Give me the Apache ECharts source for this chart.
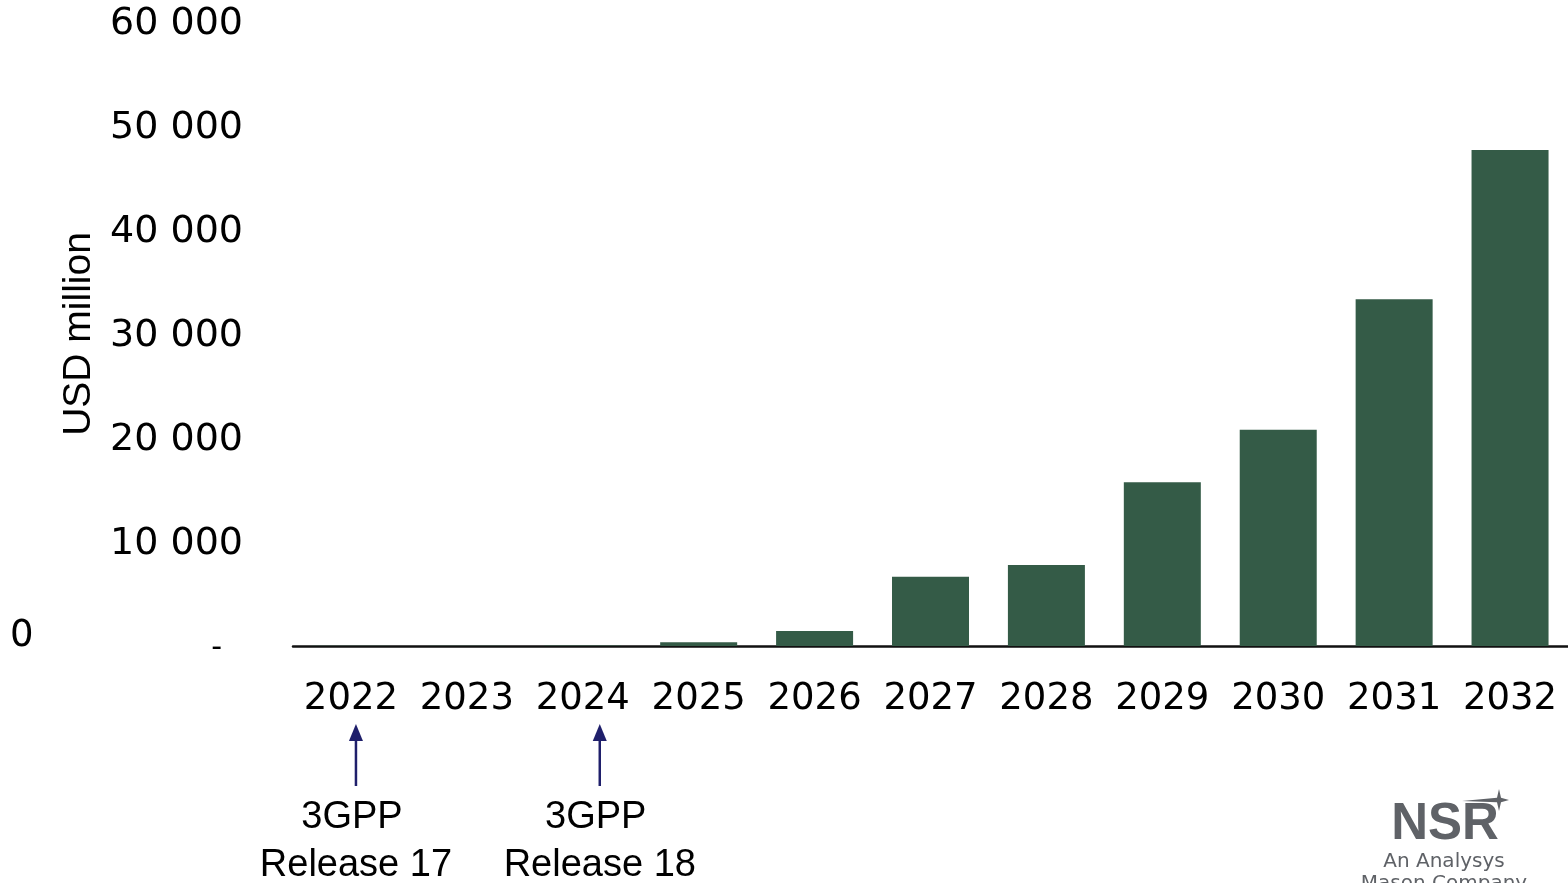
<!DOCTYPE html>
<html>
<head>
<meta charset="utf-8">
<script src="https://cdn.jsdelivr.net/npm/echarts@6/dist/echarts.min.js"></script>
<style>
html,body{margin:0;padding:0;background:#fff;}
#chart{width:1568px;height:883px;}
</style>
</head>
<body>
<div id="chart"></div>
<script>
const categories = ['2022','2023','2024','2025','2026','2027','2028','2029','2030','2031','2032'];
const revenue = [20, 30, 60, 350, 1450, 6650, 7800, 15750, 20800, 33350, 47700];
const yTicks = [0, 10000, 20000, 30000, 40000, 50000, 60000];
const annotationYears = ['2022', '2024'];
const annotationLine1 = ['3GPP', '3GPP'];
const annotationLine2 = ['Release 17', 'Release 18'];

const chart = echarts.init(document.getElementById('chart'), null, {renderer: 'canvas'});
const tickFont = 'DejaVu Sans';
chart.setOption({
  animation: false,
  grid: {left: 293, right: 0, top: 22, bottom: 237, containLabel: false},
  xAxis: {
    type: 'category',
    data: categories,
    axisLine: {lineStyle: {color: '#111', width: 2.5}},
    axisTick: {show: false},
    axisLabel: {interval: 0, color: '#000', fontFamily: tickFont, fontSize: 37, margin: 35}
  },
  yAxis: {
    type: 'value',
    min: yTicks[0], max: yTicks[yTicks.length - 1], interval: 10000,
    name: 'USD million',
    nameLocation: 'middle',
    nameGap: 194,
    nameTextStyle: {color: '#000', fontFamily: 'Liberation Sans', fontSize: 39},
    axisLine: {show: false},
    axisTick: {show: false},
    splitLine: {show: false},
    axisLabel: {
      color: '#000', fontFamily: tickFont, fontSize: 38, margin: 50,
      formatter: function (v) {
        if (v === 0) return '{dash|-}';
        return '{n|' + String(v).replace(/\B(?=(\d{3})+(?!\d))/g, ' ') + '}';
      },
      rich: {
        n: {color: '#000', fontFamily: tickFont, fontSize: 38, padding: [4, 0, 0, 0]},
        dash: {color: '#000', fontFamily: tickFont, fontSize: 30, padding: [4, 21, 0, 0]}
      }
    }
  },
  series: [{
    type: 'bar',
    data: revenue,
    barWidth: 77,
    itemStyle: {color: '#345b47'}
  }]
});

const arrowShift = [5, 17];
const graphics = [];
graphics.push({type: 'text', left: 10, top: 618, style: {text: '0', font: '37px "DejaVu Sans"', fill: '#000'}});
annotationYears.forEach(function (yr, i) {
  const x = chart.convertToPixel({xAxisIndex: 0}, yr) + arrowShift[i];
  graphics.push({type: 'line', shape: {x1: x, y1: 738, x2: x, y2: 786}, style: {stroke: '#1f1f6b', lineWidth: 2.5}});
  graphics.push({type: 'polygon', shape: {points: [[x, 724], [x - 7, 741], [x + 7, 741]]}, style: {fill: '#1f1f6b'}});
  graphics.push({type: 'text', x: x - 4, y: 818, style: {text: annotationLine1[i], font: '38px "Liberation Sans"', fill: '#000', align: 'center', verticalAlign: 'middle'}});
  graphics.push({type: 'text', x: x, y: 866, style: {text: annotationLine2[i], font: '38px "Liberation Sans"', fill: '#000', align: 'center', verticalAlign: 'middle'}});
});
// NSR logo
graphics.push({type: 'text', x: 1445, y: 825, style: {text: 'NSR', font: 'bold 51px "Liberation Sans"', fill: '#5f6267', align: 'center', verticalAlign: 'middle'}});
graphics.push({type: 'polygon', shape: {points: [[1499, 789], [1501, 797.8], [1509, 800], [1501, 802.2], [1499, 811], [1497, 802.2], [1462, 801], [1497, 797.8]]}, style: {fill: '#5f6267'}});
graphics.push({type: 'text', x: 1444, y: 862, style: {text: 'An Analysys', font: '20px "DejaVu Sans"', fill: '#5f6267', align: 'center', verticalAlign: 'middle'}});
graphics.push({type: 'text', x: 1444, y: 884, style: {text: 'Mason Company', font: '20px "DejaVu Sans"', fill: '#5f6267', align: 'center', verticalAlign: 'middle'}});
chart.setOption({graphic: graphics});
</script>
</body>
</html>
